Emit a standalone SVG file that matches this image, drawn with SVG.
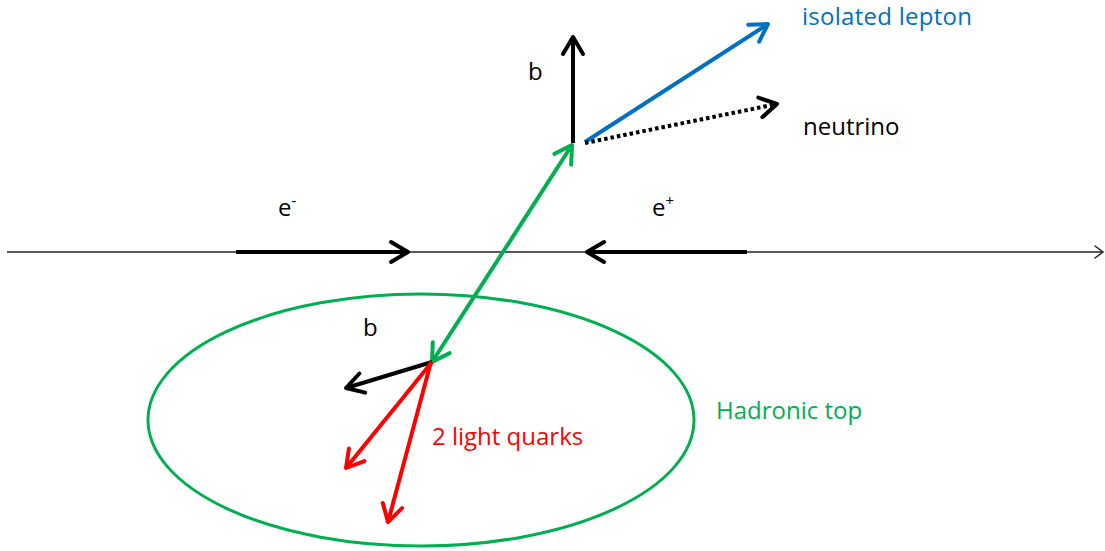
<svg xmlns="http://www.w3.org/2000/svg" width="1105" height="551" viewBox="0 0 1105 551">
<style>
text { font-family: "Open Sans", "Liberation Sans", sans-serif; font-size: 24px; }
.ln { fill: none; stroke-width: 4; }
.k { stroke: #000; }
.bl { stroke: #0070C0; }
.gr { stroke: #00B050; }
.rd { stroke: #FF0000; }
</style>
<defs>
<marker id="hk" markerUnits="userSpaceOnUse" viewBox="-22 -14 28 28" refX="0" refY="0" markerWidth="28" markerHeight="28" orient="auto-start-reverse">
<path d="M-17,-10 L0,0 L-17,10" fill="none" stroke="#000" stroke-width="4" stroke-linecap="round" stroke-linejoin="round"/>
</marker>
<marker id="hb" markerUnits="userSpaceOnUse" viewBox="-22 -14 28 28" refX="0" refY="0" markerWidth="28" markerHeight="28" orient="auto-start-reverse">
<path d="M-17,-10 L0,0 L-17,10" fill="none" stroke="#0070C0" stroke-width="4" stroke-linecap="round" stroke-linejoin="round"/>
</marker>
<marker id="hg" markerUnits="userSpaceOnUse" viewBox="-22 -14 28 28" refX="0" refY="0" markerWidth="28" markerHeight="28" orient="auto-start-reverse">
<path d="M-17,-10 L0,0 L-17,10" fill="none" stroke="#00B050" stroke-width="4" stroke-linecap="round" stroke-linejoin="round"/>
</marker>
<marker id="hr" markerUnits="userSpaceOnUse" viewBox="-22 -14 28 28" refX="0" refY="0" markerWidth="28" markerHeight="28" orient="auto-start-reverse">
<path d="M-17,-10 L0,0 L-17,10" fill="none" stroke="#FF0000" stroke-width="4" stroke-linecap="round" stroke-linejoin="round"/>
</marker>
<marker id="ha" markerUnits="userSpaceOnUse" viewBox="-12 -8 14 16" refX="0" refY="0" markerWidth="14" markerHeight="16" orient="auto">
<path d="M-8,-6 L0,0 L-8,6" fill="none" stroke="#222" stroke-width="1.5" stroke-linecap="round"/>
</marker>
</defs>

<g id="beam-axis">
<line x1="7" y1="252" x2="1103" y2="252" stroke="#222" stroke-width="1.5" marker-end="url(#ha)"/>
</g>

<g id="hadronic-top">
<ellipse cx="421" cy="420" rx="273" ry="126" fill="none" stroke="#00B050" stroke-width="3"/>
<text x="716" y="419" fill="#00B050">Hadronic top</text>
</g>

<g id="connectors">
<line class="ln k" x1="236" y1="252" x2="408" y2="252" marker-end="url(#hk)"/>
<line class="ln k" x1="747" y1="252" x2="587" y2="252" marker-end="url(#hk)"/>
<line class="ln gr" x1="572" y1="145" x2="432" y2="362" marker-start="url(#hg)" marker-end="url(#hg)"/>
<line class="ln k" x1="573" y1="143" x2="573" y2="37" marker-end="url(#hk)"/>
<line class="ln bl" x1="585" y1="142" x2="768" y2="24" marker-end="url(#hb)"/>
<line class="ln k" x1="585" y1="143" x2="777" y2="104" stroke-dasharray="3.5 3" marker-end="url(#hk)"/>
<line class="ln k" x1="432" y1="362" x2="346" y2="388" marker-end="url(#hk)"/>
<line class="ln rd" x1="432" y1="362" x2="346" y2="468" marker-end="url(#hr)"/>
<line class="ln rd" x1="431" y1="362" x2="388" y2="522" marker-end="url(#hr)"/>
</g>

<g id="labels">
<text x="802" y="25" fill="#0070C0" font-size="23" textLength="170">isolated lepton</text>
<text x="803" y="135" fill="#000">neutrino</text>
<text x="528" y="80" fill="#000">b</text>
<text x="363" y="336" fill="#000">b</text>
<text x="432" y="445" fill="#FF0000">2 light quarks</text>
<text x="278" y="216" fill="#000">e<tspan font-size="15" dy="-10">-</tspan></text>
<text x="652" y="216" fill="#000">e<tspan font-size="15" dy="-10">+</tspan></text>
</g>
</svg>
